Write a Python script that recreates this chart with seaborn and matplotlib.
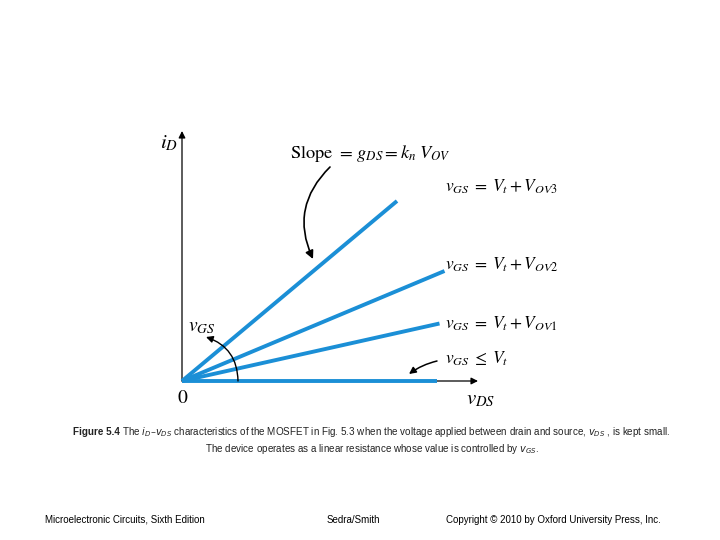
import matplotlib
matplotlib.use("Agg")
import matplotlib.pyplot as plt
import seaborn as sns
import pandas as pd

# ---- data (units: arbitrary, origin at 0) ----
curves = ["vGS<=Vt", "VOV1", "VOV2", "VOV3"]
vds_end = [10.2, 10.3, 10.5, 8.6]
id_end = [0.0, 2.3, 4.4, 7.2]
curve_labels = [r"$v_{GS}\;\leq\;V_t$",
                r"$v_{GS}\;=\;V_t + V_{OV1}$",
                r"$v_{GS}\;=\;V_t + V_{OV2}$",
                r"$v_{GS}\;=\;V_t + V_{OV3}$"]
label_y = [0.9, 2.3, 4.65, 7.75]
slope_label = r"Slope $=\,g_{DS} = k_n\; V_{OV}$"
caption_bold = "Figure 5.4"
caption_1 = r"The $i_D$–$v_{DS}$ characteristics of the MOSFET in Fig. 5.3 when the voltage applied between drain and source, $v_{DS}$ , is kept small."
caption_2 = r"The device operates as a linear resistance whose value is controlled by $v_{GS}$."
footer = ["Microelectronic Circuits, Sixth Edition", "Sedra/Smith",
          "Copyright © 2010 by Oxford University Press, Inc."]

BLUE = "#1b8fd6"

rows = []
for c, x, y in zip(curves, vds_end, id_end):
    rows.append({"curve": c, "vDS": 0.0, "iD": 0.0})
    rows.append({"curve": c, "vDS": x, "iD": y})
df = pd.DataFrame(rows)

sns.set_theme(style="white")
plt.rcParams["mathtext.fontset"] = "stix"

fig = plt.figure(figsize=(7.2, 5.4), dpi=100)
ax = fig.add_axes([0, 0, 1, 1])
S = 25.0
ax.set_xlim(-182 / S, (720 - 182) / S)
ax.set_ylim(-159 / S, 381 / S)
ax.axis("off")

sns.lineplot(data=df, x="vDS", y="iD", hue="curve", sort=False,
             palette=[BLUE] * 4, legend=False, linewidth=2.8, ax=ax,
             solid_capstyle="butt", zorder=3)

# axes arrows
arr = dict(arrowstyle="-|>", color="black", lw=0.9, mutation_scale=10, shrinkA=0, shrinkB=0)
ax.annotate("", xy=(0, (381 - 131) / S), xytext=(0, 0), arrowprops=arr, zorder=1)
ax.annotate("", xy=((478 - 182) / S, 0), xytext=(0, 0), arrowprops=arr, zorder=1)

serif = dict(family="STIXGeneral", color="black")
ax.text(-0.15, (381 - 143) / S, r"$i_D$", fontsize=15, ha="right", va="center", **serif)
ax.text(0, -0.35, "0", fontsize=14, ha="center", va="top", **serif)
ax.text((466 - 182) / S, -0.35, r"$v_{DS}$", fontsize=15, ha="left", va="top", **serif)
ax.text((188 - 182) / S, (381 - 327) / S, r"$v_{GS}$", fontsize=14, ha="left", va="center", **serif)
ax.text((290 - 182) / S, (381 - 153) / S, slope_label, fontsize=13.2, ha="left", va="center", **serif)
for lab, y in zip(curve_labels, label_y):
    ax.text((445 - 182) / S, y, lab, fontsize=12.5, ha="left", va="center", **serif)

# curved arrows
ax.annotate("", xy=((313 - 182) / S, (381 - 259) / S), xytext=((330 - 182) / S, (381 - 167) / S),
            arrowprops=dict(arrowstyle="-|>", color="black", lw=1.2, mutation_scale=12,
                            connectionstyle="arc3,rad=0.35", shrinkA=0, shrinkB=0))
ax.annotate("", xy=((206 - 182) / S, (381 - 337) / S), xytext=((238 - 182) / S, 0),
            arrowprops=dict(arrowstyle="-|>", color="black", lw=1.0, mutation_scale=10,
                            connectionstyle="arc3,rad=0.35", shrinkA=0, shrinkB=0))
ax.annotate("", xy=((409 - 182) / S, (381 - 374) / S), xytext=((437 - 182) / S, (381 - 361) / S),
            arrowprops=dict(arrowstyle="-|>", color="black", lw=1.1, mutation_scale=10,
                            connectionstyle="arc3,rad=0.1", shrinkA=0, shrinkB=0))

# caption and footer (figure pixel coordinates)
def fx(px):
    return px / 720.0

def fy(py):
    return 1 - py / 540.0

sans = ["Liberation Sans", "DejaVu Sans"]
fig.text(fx(73), fy(432), caption_bold, fontsize=7.1, fontweight="bold", family=sans,
         ha="left", va="center", color="#222222")
fig.text(fx(122), fy(432), caption_1, fontsize=7.1, family=sans, ha="left", va="center",
         color="#222222", math_fontfamily="dejavusans")
fig.text(fx(372), fy(449), caption_2, fontsize=7.1, family=sans, ha="center", va="center",
         color="#222222", math_fontfamily="dejavusans")

fig.text(fx(45), fy(520), footer[0], fontsize=7, family=sans, ha="left", va="center", color="black")
fig.text(fx(327), fy(520), footer[1], fontsize=7, family=sans, ha="left", va="center", color="black")
fig.text(fx(446), fy(520), footer[2], fontsize=7, family=sans, ha="left", va="center", color="black")

fig.savefig("out.png", dpi=100, facecolor="white")
